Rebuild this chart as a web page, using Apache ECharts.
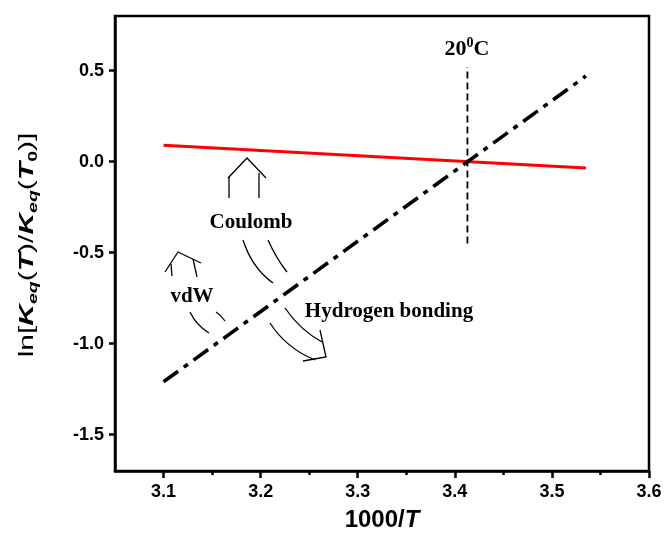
<!DOCTYPE html>
<html>
<head>
<meta charset="utf-8">
<script src="https://cdn.jsdelivr.net/npm/echarts@6.0.0/dist/echarts.min.js"></script>
<style>
  html, body { margin: 0; padding: 0; background: #fff; }
  #chart { width: 666px; height: 538px; }
</style>
</head>
<body>
<div id="chart"></div>
<script>
// Axis ticks
const xTicks = [3.1, 3.2, 3.3, 3.4, 3.5, 3.6];
const xMinorTicks = [3.15, 3.25, 3.35, 3.45, 3.55];
const yTicks = [-1.5, -1.0, -0.5, 0.0, 0.5];

// 1000/T end points of both fitted lines
const invT = [3.1, 3.535];
// Red line: ln ratio along the flat (Coulomb-type) branch
const redLn = [0.09, -0.035];
// Black dash-dot line: ln ratio along the steep branch
const blackLn = [-1.21, 0.47];

// Reference temperature 20 °C
const refInvT = [3.413, 3.413];
const refLn = [-0.45, 0.52];

const zip = (xs, ys) => xs.map((x, i) => [x, ys[i]]);

const chart = echarts.init(document.getElementById('chart'), null, { renderer: 'canvas' });

const AX = { color: '#000', width: 2.5 };
const sans = 'Liberation Sans';
const serif = 'Liberation Serif';

const ink = { stroke: '#000', lineWidth: 1.3, fill: null };
const curve = (x1, y1, cx, cy, x2, y2) => ({
  type: 'bezierCurve', silent: true,
  shape: { x1, y1, cpx1: cx, cpy1: cy, x2, y2 }, style: ink
});
const poly = (pts) => ({ type: 'polyline', silent: true, shape: { points: pts }, style: ink });
const label = (text, x, y) => ({
  type: 'text', x, y, silent: true,
  style: { text, fill: '#000', font: 'bold 21px "' + serif + '"', align: 'center', verticalAlign: 'middle' }
});

chart.setOption({
  animation: false,
  backgroundColor: '#fff',
  grid: {
    left: 115, right: 17, top: 16, bottom: 67,
    show: true, borderColor: '#000', borderWidth: 2.5, backgroundColor: 'transparent'
  },
  xAxis: [{
    type: 'value', min: 3.05, max: 3.6,
    name: '{n|1000/}{t|T}',
    nameLocation: 'middle', nameGap: 35,
    nameTextStyle: {
      rich: {
        n: { fontFamily: sans, fontSize: 24, fontWeight: 'bold', color: '#000', lineHeight: 28 },
        t: { fontFamily: sans, fontSize: 24, fontWeight: 'bold', fontStyle: 'italic', color: '#000', lineHeight: 28 }
      }
    },
    axisLine: { show: true, onZero: false, lineStyle: AX },
    axisTick: { show: true, customValues: xTicks, length: 7, inside: false, lineStyle: AX },
    axisLabel: {
      customValues: xTicks, formatter: v => v.toFixed(1),
      fontFamily: sans, fontSize: 18, fontWeight: 'bold', color: '#000', margin: 12
    },
    splitLine: { show: false }
  }, {
    type: 'value', min: 3.05, max: 3.6, position: 'bottom', gridIndex: 0,
    axisLine: { show: false, onZero: false },
    axisTick: { show: true, customValues: xMinorTicks, length: 4, inside: false, lineStyle: AX },
    axisLabel: { show: false },
    splitLine: { show: false }
  }],
  yAxis: {
    type: 'value', min: -1.7, max: 0.8,
    axisLine: { show: true, onZero: false, lineStyle: AX },
    axisTick: { show: true, customValues: yTicks, length: 6, inside: false, lineStyle: AX },
    axisLabel: {
      customValues: yTicks, formatter: v => v.toFixed(1),
      fontFamily: sans, fontSize: 18, fontWeight: 'bold', color: '#000', margin: 11
    },
    splitLine: { show: false }
  },
  series: [{
    type: 'line', data: zip(invT, redLn), symbol: 'none', silent: true,
    lineStyle: { color: '#ff0000', width: 3 }
  }, {
    type: 'line', data: zip(invT, blackLn), symbol: 'none', silent: true,
    lineStyle: { color: '#000', width: 3.6, type: [18, 7, 5, 7], cap: 'butt' }
  }, {
    type: 'line', data: zip(refInvT, refLn), symbol: 'none', silent: true,
    lineStyle: { color: '#000', width: 1.8, type: [7, 4] }
  }],
  graphic: [
    // Y axis title, drawn rotated and widened along its reading direction
    {
      type: 'text', x: 27, y: 245, rotation: Math.PI / 2, scaleX: 1.5, silent: true,
      style: {
        text: '{n|ln[}{k|K}{s|eq}{n|(}{k|T}{n|)/}{k|K}{s|eq}{n|(}{k|T}{z|0}{n|)]}',
        align: 'center', verticalAlign: 'middle',
        rich: {
          n: { fontFamily: sans, fontSize: 20, fill: '#000', lineHeight: 26 },
          k: { fontFamily: sans, fontSize: 20, fontWeight: 'bold', fontStyle: 'italic', fill: '#000', lineHeight: 26 },
          s: { fontFamily: sans, fontSize: 13, fontWeight: 'bold', fontStyle: 'italic', fill: '#000', lineHeight: 13, verticalAlign: 'bottom' },
          z: { fontFamily: sans, fontSize: 13, fontWeight: 'bold', fill: '#000', lineHeight: 13, verticalAlign: 'bottom' }
        }
      }
    },
    {
      type: 'text', x: 467, y: 49, silent: true,
      style: {
        text: '{a|20}{b|0}{a|C}', align: 'center', verticalAlign: 'middle',
        rich: {
          a: { fontFamily: serif, fontSize: 22, fontWeight: 'bold', fill: '#000', lineHeight: 26 },
          b: { fontFamily: serif, fontSize: 14, fontWeight: 'bold', fill: '#000', lineHeight: 14, verticalAlign: 'top' }
        }
      }
    },
    label('Coulomb', 251, 223),
    label('vdW', 192, 297),
    label('Hydrogen bonding', 389, 312),

    // Coulomb: upward arrow
    poly([[228, 178], [247, 158], [266, 178]]),
    poly([[229, 177], [229, 198]]),
    poly([[259, 173], [259, 198]]),
    // Coulomb: curved tail
    curve(243, 240, 252, 268, 273, 283),
    curve(268, 240, 276, 258, 287, 272),

    // Hydrogen bonding: curved downward arrow
    curve(285, 308, 300, 330, 322, 342),
    curve(270, 323, 286, 348, 315, 360),
    poly([[320, 330], [326, 357], [303, 361]]),

    // vdW: upward arrow
    poly([[165, 272], [178, 252], [201, 263]]),
    poly([[171, 264], [172, 276]]),
    poly([[193, 259], [197, 277]]),
    // vdW: curved tail
    curve(190, 312, 196, 325, 209, 333),
    curve(216, 312, 221, 315, 225, 321)
  ]
});
</script>
</body>
</html>
